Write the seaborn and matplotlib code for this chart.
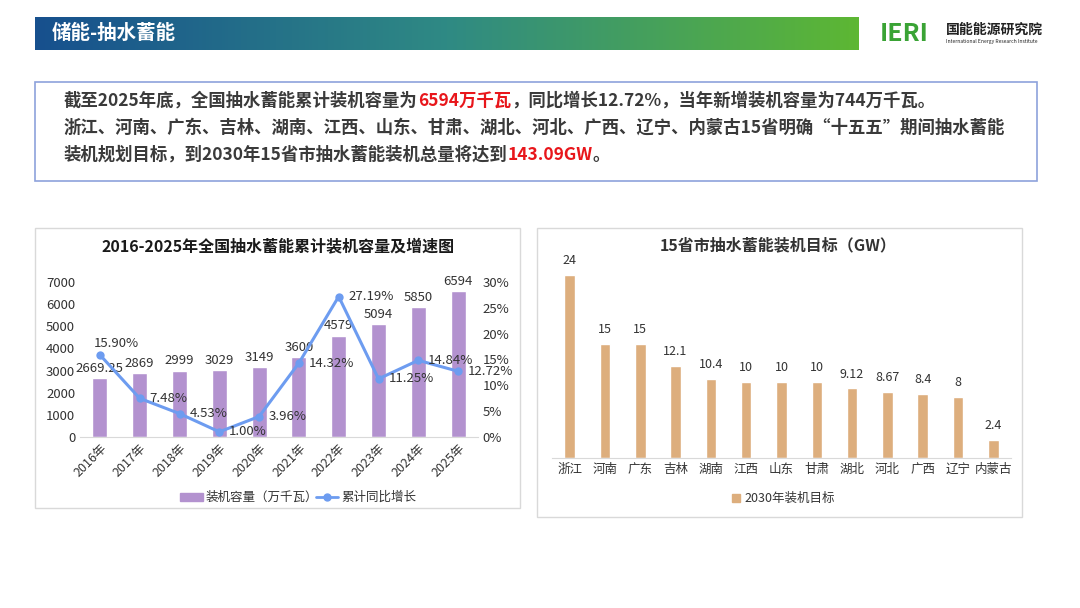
import numpy as np
import pandas as pd
import matplotlib
matplotlib.use('Agg')
import matplotlib.pyplot as plt
import seaborn as sns
from matplotlib.patches import Rectangle

years = ['2016年', '2017年', '2018年', '2019年', '2020年', '2021年', '2022年', '2023年', '2024年', '2025年']
capacity = [2669.25, 2869, 2999, 3029, 3149, 3600, 4579, 5094, 5850, 6594]
capacity_labels = ['2669.25', '2869', '2999', '3029', '3149', '3600', '4579', '5094', '5850', '6594']
growth = [15.90, 7.48, 4.53, 1.00, 3.96, 14.32, 27.19, 11.25, 14.84, 12.72]

provinces = ['浙江', '河南', '广东', '吉林', '湖南', '江西', '山东', '甘肃', '湖北', '河北', '广西', '辽宁', '内蒙古']
targets = [24, 15, 15, 12.1, 10.4, 10, 10, 10, 9.12, 8.67, 8.4, 8, 2.4]
target_labels = ['24', '15', '15', '12.1', '10.4', '10', '10', '10', '9.12', '8.67', '8.4', '8', '2.4']

sns.set_style('white')
plt.rcParams['font.family'] = ['Noto Sans CJK SC', 'DejaVu Sans']
plt.rcParams['axes.unicode_minus'] = False

W, H = 1080, 608
fig = plt.figure(figsize=(10.8, 6.08), dpi=100)

def fx(x):
    return x / W

def fy(y):
    return 1 - y / H

# header gradient bar
hax = fig.add_axes([fx(35), fy(50), fx(858 - 35), (50 - 17) / H])
grad = np.linspace(0, 1, 256).reshape(1, -1)
cmap = matplotlib.colors.LinearSegmentedColormap.from_list('g', ['#17508e', '#2f8a84', '#5db733'])
hax.imshow(grad, aspect='auto', cmap=cmap, extent=[0, 1, 0, 1])
hax.set_axis_off()
hax.text(0.02, 0.5, '储能-抽水蓄能', color='white', fontsize=14, fontweight='bold', va='center')

fig.text(fx(880), fy(34), 'IERI', color='#3aa335', fontsize=18, fontweight='bold', va='center')
fig.text(fx(946), fy(30), '国能能源研究院', color='#222222', fontsize=10, fontweight='bold', va='center')
fig.text(fx(946), fy(42), 'International Energy Research Institute', color='#222222', fontsize=3.6, va='center')

# text box
fig.patches.append(Rectangle((fx(35), fy(181)), fx(1037 - 35), (181 - 82) / H, transform=fig.transFigure,
                             facecolor='white', edgecolor='#8da2dc', lw=1.2, zorder=-1))
lines = [
    [('截至2025年底，全国抽水蓄能累计装机容量为', '#3a3a3a'), ('6594万千瓦', '#e8161b'),
     ('，同比增长12.72%，当年新增装机容量为744万千瓦。', '#3a3a3a')],
    [('浙江、河南、广东、吉林、湖南、江西、山东、甘肃、湖北、河北、广西、辽宁、内蒙古15省明确“十五五”期间抽水蓄能', '#3a3a3a')],
    [('装机规划目标，到2030年15省市抽水蓄能装机总量将达到', '#3a3a3a'), ('143.09GW', '#e8161b'), ('。', '#3a3a3a')],
]
fig.canvas.draw()
r = fig.canvas.get_renderer()
for i, parts in enumerate(lines):
    x = fx(64)
    y = fy(101 + i * 27)
    for s, c in parts:
        t = fig.text(x, y, s, color=c, fontsize=12.5, fontweight='bold', va='center')
        bb = t.get_window_extent(renderer=r)
        x += bb.width / W

# panel borders
for x0, y0, x1, y1 in [(35, 228, 520, 508), (537, 228, 1022, 517)]:
    fig.patches.append(Rectangle((fx(x0), fy(y1)), fx(x1 - x0), (y1 - y0) / H, transform=fig.transFigure,
                                 facecolor='white', edgecolor='#d9d9d9', lw=1, zorder=-1))

# left chart
df1 = pd.DataFrame({'year': years, 'capacity': capacity, 'growth': growth})
ax = fig.add_axes([fx(80), fy(437), fx(478 - 80), (437 - 282) / H])
ax.patch.set_alpha(0)
sns.barplot(data=df1, x='year', y='capacity', color='#b392cf', width=0.38, ax=ax, saturation=1)
ax.set_ylim(0, 7000)
ax.set_yticks(range(0, 7001, 1000))
ax.set_xlabel('')
ax.set_ylabel('')
ax.tick_params(axis='y', labelsize=9.5, colors='#333333', length=0)
ax.tick_params(axis='x', labelsize=9, colors='#333333', length=0, rotation=45)
for lab in ax.get_xticklabels():
    lab.set_ha('right')
    lab.set_rotation_mode('anchor')
for s in ['top', 'right', 'left']:
    ax.spines[s].set_visible(False)
ax.spines['bottom'].set_color('#d9d9d9')
for i, v in enumerate(capacity):
    ax.text(i, v + 150, capacity_labels[i], ha='center', va='bottom', fontsize=9.5, color='#333333')
ax2 = ax.twinx()
sns.lineplot(x=np.arange(len(years)), y=growth, color='#6d9cf0', lw=2.2, marker='o', markersize=6,
             markeredgewidth=0, ax=ax2)
ax2.set_ylim(0, 30)
ax2.set_yticks(range(0, 31, 5))
ax2.set_yticklabels([f'{v}%' for v in range(0, 31, 5)])
ax2.tick_params(axis='y', labelsize=9.5, colors='#333333', length=0)
for s in ['top', 'right', 'left', 'bottom']:
    ax2.spines[s].set_visible(False)
for i, v in enumerate(growth):
    dx, dy = 0.25, 0
    if i == 0:
        dx, dy = -0.15, 2.2
    ax2.text(i + dx, v + dy, f'{v:.2f}%', ha='left', va='center', fontsize=9.5, color='#333333')
ax.set_xlim(-0.5, len(years) - 0.5)
fig.text(fx(278), fy(246), '2016-2025年全国抽水蓄能累计装机容量及增速图', ha='center', va='center',
         fontsize=11.5, fontweight='bold', color='#1a1a1a')
fig.patches.append(Rectangle((fx(180), fy(501)), fx(23), 8 / H, transform=fig.transFigure, color='#b392cf'))
fig.text(fx(206), fy(497), '装机容量（万千瓦）', fontsize=9, va='center', color='#333333')
fig.lines.append(plt.Line2D([fx(316), fx(338)], [fy(497), fy(497)], transform=fig.transFigure, color='#6d9cf0', lw=2))
fig.lines.append(plt.Line2D([fx(327)], [fy(497)], transform=fig.transFigure, color='#6d9cf0', marker='o', markersize=5))
fig.text(fx(341), fy(497), '累计同比增长', fontsize=9, va='center', color='#333333')

# right chart
df2 = pd.DataFrame({'province': provinces, 'target': targets})
bx = fig.add_axes([fx(552), fy(458), fx(1011 - 552), (458 - 275) / H])
bx.patch.set_alpha(0)
sns.barplot(data=df2, x='province', y='target', color='#ddae7d', width=0.3, ax=bx, saturation=1)
bx.set_ylim(0, 24)
bx.set_yticks([])
bx.set_xlabel('')
bx.set_ylabel('')
bx.tick_params(axis='x', labelsize=9, colors='#333333', length=0)
for s in ['top', 'right', 'left']:
    bx.spines[s].set_visible(False)
bx.spines['bottom'].set_color('#d9d9d9')
for i, v in enumerate(targets):
    bx.text(i, v + 1, target_labels[i], ha='center', va='bottom', fontsize=9, color='#333333')
fig.text(fx(778), fy(245), '15省市抽水蓄能装机目标（GW）', ha='center', va='center',
         fontsize=11.5, fontweight='bold', color='#333333')
fig.patches.append(Rectangle((fx(732), fy(502)), fx(8), 8 / H, transform=fig.transFigure, color='#ddae7d'))
fig.text(fx(744), fy(498), '2030年装机目标', fontsize=9, va='center', color='#333333')

fig.savefig('out.png', dpi=100)
